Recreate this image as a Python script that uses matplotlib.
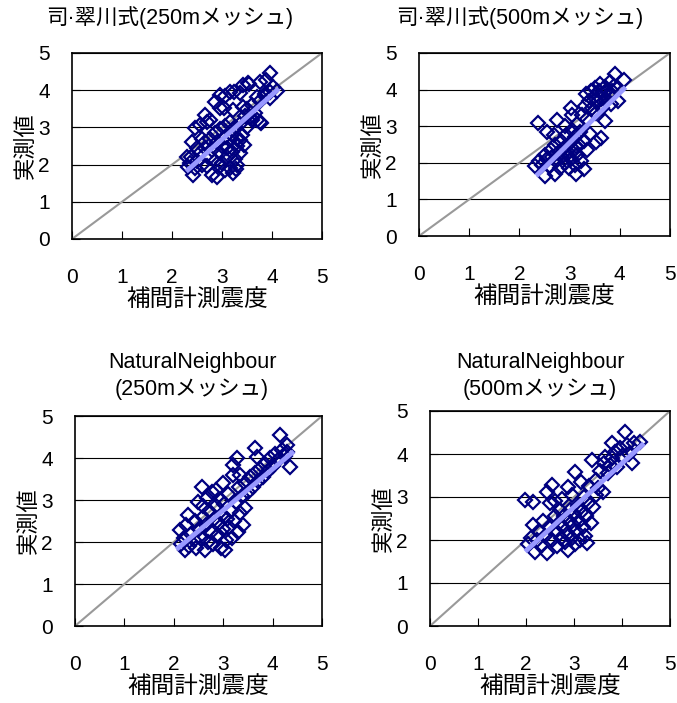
import matplotlib
matplotlib.use("Agg")
import matplotlib.pyplot as plt
from matplotlib import font_manager

# narrow latin font if there is one, CJK glyphs from Noto
names = {f.name for f in font_manager.fontManager.ttflist}
latin = 'Liberation Sans Narrow' if 'Liberation Sans Narrow' in names else 'Liberation Sans'
plt.rcParams['font.family'] = [latin, 'Noto Sans CJK JP']

# ---- data ----
titles = ["司·翠川式(250mメッシュ)", "司·翠川式(500mメッシュ)",
          "NaturalNeighbour\n(250mメッシュ)", "NaturalNeighbour\n(500mメッシュ)"]
xlabel = "補間計測震度"
ylabel = "実測値"
ticks = [0, 1, 2, 3, 4, 5]

tl_pts = [(2.40,2.62),(2.46,2.98),(2.56,3.06),(2.66,3.33),(2.70,3.15),(2.76,3.20),(2.86,3.68),(2.96,3.87),
          (3.06,3.84),(3.16,3.95),(3.24,3.95),(3.36,3.92),(3.42,4.14),(3.52,4.19),(3.54,4.17),(3.76,4.22),
          (3.88,4.27),(3.96,4.46),(4.02,4.09),(3.96,3.95),(3.70,3.82),(2.96,3.52),(3.04,3.52),(3.22,3.47),
          (3.42,3.55),(3.56,3.28),(3.70,3.20),(3.76,3.15),(3.78,3.12),(3.86,3.84),(4.10,3.98),
          (2.30,2.20),(2.32,1.94),(2.38,2.20),(2.42,1.72),(2.80,1.72),(2.90,1.66),(3.22,1.77),(3.28,1.88),
          (3.30,1.99),(3.36,2.66),(3.44,2.53),(2.35,2.05),(2.45,1.90),(2.50,2.10),(2.55,2.30),(2.60,2.00),
          (2.65,2.45),(2.70,1.95),(2.75,2.20),(2.80,2.40),(2.85,2.10),(2.90,2.60),(2.95,2.30),(3.00,2.05),
          (3.00,2.50),(3.05,2.75),(3.10,2.20),(3.10,2.45),(3.15,1.90),(3.15,2.65),(3.20,2.35),(3.20,2.80),
          (3.25,2.15),(3.30,2.50),(3.35,2.30),(3.05,1.85),(2.95,1.95),(2.85,2.85),(2.75,2.70),(2.65,2.60),
          (3.25,3.00),(3.35,3.10),(3.45,3.30),(3.50,3.50),(3.60,3.60),(3.65,3.40),(3.75,3.70),(3.85,3.90),
          (3.95,3.80),(3.15,3.15),(3.05,3.05),(2.95,2.95),(2.60,2.70),(2.50,2.45),(3.40,2.80),(3.30,2.70),
          (3.50,3.00),(3.60,3.20)]

tr_pts = [(2.31,1.91),(2.37,3.09),(2.40,2.05),(2.45,1.95),(2.51,1.64),(2.50,2.20),(2.55,2.84),(2.55,2.10),
          (2.60,1.90),(2.62,2.35),(2.65,2.15),(2.70,2.50),(2.71,1.69),(2.72,2.05),(2.75,3.17),(2.78,2.30),
          (2.80,1.85),(2.82,2.60),(2.85,2.15),(2.88,2.40),(2.90,2.00),(2.92,2.75),(2.95,2.25),(2.98,1.85),
          (3.00,2.55),(3.03,3.50),(3.02,2.10),(3.05,2.90),(3.08,2.35),(3.10,1.95),(3.10,2.70),(3.13,1.69),
          (3.15,2.20),(3.15,3.05),(3.18,2.50),(3.20,2.85),(3.22,2.05),(3.25,3.30),(3.28,2.60),(3.29,1.83),
          (3.30,3.55),(3.33,3.88),(3.35,2.35),(3.35,3.20),(3.38,3.70),(3.40,2.80),(3.43,3.96),(3.45,3.50),
          (3.48,3.80),(3.50,4.05),(3.52,3.35),(3.53,2.57),(3.55,3.65),(3.58,3.95),(3.60,4.15),(3.62,3.75),
          (3.63,2.68),(3.65,3.50),(3.68,3.90),(3.70,4.07),(3.70,3.14),(3.72,3.70),(3.75,4.00),(3.78,3.85),
          (3.80,4.20),(3.82,3.60),(3.85,3.95),(3.90,4.43),(3.88,4.10),(3.96,3.69),(3.95,4.05),(4.08,4.26),
          (2.90,3.00),(3.05,3.30),(2.68,2.75),(3.12,2.45)]

bl_pts = [(2.13,2.29),(2.15,1.95),(2.20,2.10),(2.23,1.81),(2.25,2.40),(2.29,2.64),(2.30,1.90),(2.35,2.20),
          (2.40,2.05),(2.42,2.50),(2.45,1.85),(2.48,2.95),(2.50,2.30),(2.55,2.10),(2.57,3.31),(2.60,2.60),
          (2.63,1.81),(2.65,2.40),(2.68,3.05),(2.70,2.00),(2.72,2.75),(2.75,2.25),(2.78,3.20),(2.80,1.95),
          (2.82,2.55),(2.85,2.85),(2.88,2.15),(2.90,2.17),(2.92,2.45),(2.95,3.00),(2.95,1.85),(2.98,2.65),
          (3.00,2.30),(3.02,2.90),(3.04,1.81),(3.05,2.05),(3.08,2.55),(3.10,3.15),(3.12,2.35),(3.15,2.75),
          (3.18,2.10),(3.20,3.60),(3.20,3.83),(3.22,2.50),(3.25,2.95),(3.28,4.00),(3.30,2.25),(3.32,3.30),
          (3.35,2.70),(3.38,3.10),(3.40,2.40),(3.44,2.81),(3.45,3.40),(3.50,3.20),(3.55,3.55),(3.60,3.30),
          (3.64,4.24),(3.65,3.65),(3.68,4.02),(3.70,3.45),(3.75,3.75),(3.80,3.55),(3.85,3.85),(3.90,3.70),
          (3.95,4.00),(4.00,3.80),(4.05,4.10),(4.10,3.95),(4.15,4.55),(4.20,4.20),(4.25,4.05),(4.30,4.30),
          (4.35,3.79),(4.30,4.15),(3.00,3.40),(2.85,3.25),(2.60,2.85),(3.35,3.60)]

br_pts = [(1.98,2.93),(2.05,1.90),(2.10,2.05),(2.15,2.88),(2.15,2.35),(2.19,1.72),(2.22,2.00),(2.28,2.20),
          (2.32,1.85),(2.35,2.45),(2.40,2.10),(2.44,3.12),(2.44,1.70),(2.48,2.30),(2.50,2.86),(2.54,3.28),
          (2.55,2.00),(2.60,2.55),(2.62,2.20),(2.65,1.85),(2.68,2.40),(2.70,2.70),(2.72,2.05),(2.75,2.95),
          (2.78,2.30),(2.80,2.55),(2.82,1.95),(2.85,2.15),(2.88,3.23),(2.88,1.77),(2.90,2.45),(2.92,2.70),
          (2.95,2.05),(2.98,2.35),(3.00,2.60),(3.02,3.58),(3.02,1.90),(3.05,2.20),(3.08,2.80),(3.10,2.45),
          (3.12,2.00),(3.15,2.65),(3.18,2.30),(3.20,3.00),(3.22,2.10),(3.25,2.55),(3.27,1.93),(3.30,2.85),
          (3.32,3.25),(3.35,2.40),(3.38,3.86),(3.40,2.77),(3.45,3.40),(3.50,3.20),(3.55,3.60),(3.60,3.12),
          (3.62,3.80),(3.65,3.93),(3.70,3.55),(3.75,3.75),(3.79,4.26),(3.80,3.90),(3.85,4.05),(3.90,3.70),
          (3.95,4.15),(4.00,3.95),(4.06,4.51),(4.10,4.20),(4.15,4.00),(4.21,3.79),(4.25,4.25),(4.38,4.28),
          (3.15,3.35),(2.95,3.05),(2.60,2.90),(3.45,3.05)]

# regression lines (endpoints)
tl_trend = ([2.32, 4.10], [1.86, 4.00])
tr_trend = ([2.37, 4.08], [1.69, 4.02])
bl_trend = ([2.09, 4.39], [1.86, 4.12])
br_trend = ([2.02, 4.42], [1.77, 4.21])

panels = [tl_pts, tr_pts, bl_pts, br_pts]
trends = [tl_trend, tr_trend, bl_trend, br_trend]

W, H = 677, 703
# axes boxes in pixels: left, right, top, bottom
boxes = [(72, 322, 53, 239), (419, 670, 53, 236), (75, 322, 416, 626), (430, 670, 411, 626)]
title_pos = [(170, 18), (520, 18), (192, 376), (540, 376)]

fig = plt.figure(figsize=(W/100, H/100), dpi=100)

for k in range(4):
    l, r, t, b = boxes[k]
    ax = fig.add_axes([l/W, 1 - b/H, (r-l)/W, (b-t)/H])
    ax.set_xlim(0, 5)
    ax.set_ylim(0, 5)
    ax.set_xticks(ticks)
    ax.set_yticks(ticks)
    ax.grid(axis='y', color='black', linewidth=0.8)
    ax.set_axisbelow(True)
    ax.plot([0, 5], [0, 5], color='#999999', linewidth=1.5, zorder=2)
    xs = [p[0] for p in panels[k]]
    ys = [p[1] for p in panels[k]]
    ax.plot(xs, ys, linestyle='none', marker='D', markersize=7,
            markerfacecolor='none', markeredgecolor='#000080', markeredgewidth=1.6, zorder=3)
    ax.plot(trends[k][0], trends[k][1], color='#9999FF', linewidth=3.5, zorder=4)
    for s in ax.spines.values():
        s.set_color('black')
        s.set_linewidth(1.2)
    ax.tick_params(axis='both', direction='in', length=6, width=0.8, labelsize=15)
    ax.tick_params(axis='y', pad=16)
    ax.tick_params(axis='x', pad=21)
    ax.set_xlabel(xlabel, fontsize=17, labelpad=2)
    ax.set_ylabel(ylabel, fontsize=16, labelpad=1)
    tx, ty = title_pos[k]
    fig.text(tx/W, 1 - ty/H, titles[k], ha='center', va='center',
             fontsize=15.5, linespacing=1.3)

fig.savefig("out.png", dpi=100)
